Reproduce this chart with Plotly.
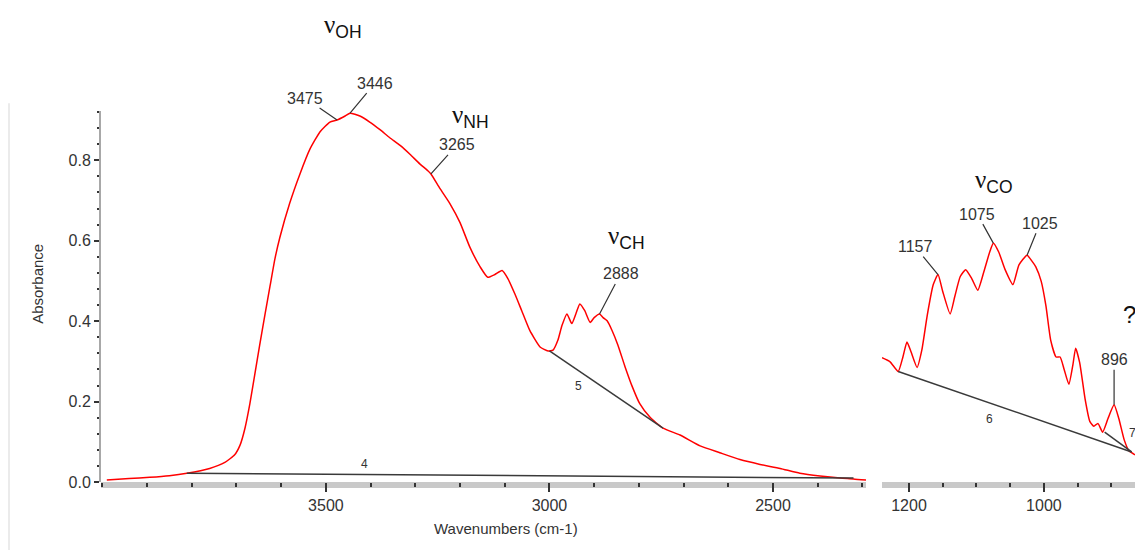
import numpy as np
import plotly.graph_objects as go

W, H = 1135, 559

# ---- spectrum data -------------------------------------------------------
# high-wavenumber region (cm-1) and absorbance
wn_main = [3990, 3940, 3894, 3850, 3811, 3760, 3726, 3704, 3692, 3681, 3670,
           3659, 3648, 3636, 3625, 3614, 3603, 3581, 3558, 3536, 3513, 3491,
           3475, 3457, 3446, 3424, 3402, 3379, 3357, 3334, 3312, 3290, 3272,
           3265, 3245, 3223, 3200, 3178, 3155, 3138, 3122, 3106, 3093, 3077,
           3062, 3044, 3021, 3003, 2992, 2981, 2972, 2961, 2950, 2941, 2932,
           2921, 2909, 2900, 2888, 2880, 2871, 2860, 2847, 2831, 2815, 2798,
           2775, 2746, 2708, 2663, 2619, 2574, 2529, 2484, 2440, 2395, 2350,
           2320, 2292]
abs_main = [0.005, 0.009, 0.012, 0.016, 0.022, 0.034, 0.049, 0.068, 0.092,
            0.134, 0.195, 0.268, 0.341, 0.418, 0.487, 0.555, 0.608, 0.693,
            0.766, 0.827, 0.871, 0.895, 0.900, 0.910, 0.917, 0.910, 0.895,
            0.876, 0.856, 0.837, 0.815, 0.791, 0.774, 0.766, 0.730, 0.693,
            0.645, 0.584, 0.535, 0.509, 0.516, 0.526, 0.506, 0.467, 0.426,
            0.377, 0.336, 0.326, 0.328, 0.353, 0.389, 0.418, 0.394, 0.418,
            0.443, 0.426, 0.397, 0.409, 0.418, 0.409, 0.401, 0.377, 0.341,
            0.287, 0.238, 0.195, 0.161, 0.134, 0.117, 0.090, 0.073, 0.056,
            0.044, 0.034, 0.022, 0.015, 0.010, 0.008, 0.005]

# fingerprint region (cm-1) and absorbance
wn_fp = [1240, 1228, 1216, 1209, 1203, 1197, 1188, 1181, 1173, 1164, 1157,
         1150, 1139, 1132, 1124, 1116, 1107, 1098, 1089, 1080, 1075, 1067,
         1058, 1046, 1037, 1025, 1018, 1012, 1004, 997, 990, 982, 976, 970,
         963, 957, 953, 947, 939, 932, 926, 920, 913, 905, 896, 889, 881,
         874, 865]
abs_fp = [0.309, 0.299, 0.275, 0.311, 0.348, 0.324, 0.285, 0.328, 0.414,
          0.491, 0.516, 0.474, 0.418, 0.462, 0.511, 0.528, 0.506, 0.477,
          0.523, 0.574, 0.594, 0.572, 0.530, 0.491, 0.540, 0.564, 0.550,
          0.535, 0.499, 0.438, 0.353, 0.311, 0.311, 0.280, 0.243, 0.292,
          0.333, 0.297, 0.207, 0.151, 0.139, 0.146, 0.124, 0.158, 0.192,
          0.158, 0.105, 0.078, 0.068]

# labelled band positions (cm-1)
peaks_main = [3475, 3446, 3265, 2888]
peaks_fp = [1157, 1075, 1025, 896]

# integration baselines: numbered segments
bl4_wn, bl4_abs = [3811, 2320], [0.022, 0.010]
bl5_wn, bl5_abs = [3000, 2746], [0.326, 0.134]
bl6_wn, bl6_abs = [1216, 870], [0.275, 0.075]
bl7_wn, bl7_abs = [910, 870], [0.124, 0.075]

x_ticks_main = [3500, 3000, 2500]
x_ticks_fp = [1200, 1000]
y_ticks = [0.0, 0.2, 0.4, 0.6, 0.8]

# ---- styling --------------------------------------------------------------
RED = "#ff0000"
INK = "#333333"
NARROW = "Liberation Sans Narrow, Liberation Sans, Arial, sans-serif"
SANS = "Liberation Sans, Arial, sans-serif"


def px(x):
    return x / W


def py(y):
    return (H - y) / H


Y_DOMAIN = [py(490), py(113)]
Y_RANGE = [0, 0.922]

fig = go.Figure()

line_style = dict(color=RED, width=1.5, shape="spline", smoothing=0.5)
base_style = dict(color="#3a3a3a", width=1.5)

fig.add_trace(go.Scatter(x=wn_main, y=abs_main, mode="lines", line=line_style,
                         xaxis="x", yaxis="y", hoverinfo="skip"))
fig.add_trace(go.Scatter(x=wn_fp, y=abs_fp, mode="lines", line=line_style,
                         xaxis="x2", yaxis="y2", hoverinfo="skip"))
for bx, by, xa, ya in [(bl4_wn, bl4_abs, "x", "y"), (bl5_wn, bl5_abs, "x", "y"),
                       (bl6_wn, bl6_abs, "x2", "y2"), (bl7_wn, bl7_abs, "x2", "y2")]:
    fig.add_trace(go.Scatter(x=bx, y=by, mode="lines", line=base_style,
                             xaxis=xa, yaxis=ya, hoverinfo="skip"))

tick_font = dict(family=NARROW, size=16, color=INK)
xaxis_common = dict(
    showline=False, showgrid=False, zeroline=False,
    ticks="outside", ticklen=9, tickwidth=2, tickcolor=INK,
    tickfont=tick_font, fixedrange=True,
    minor=dict(ticks="outside", ticklen=4, tickwidth=2, tickcolor=INK,
               dtick=100, showgrid=False),
)

fig.update_layout(
    width=W, height=H,
    margin=dict(l=0, r=0, t=0, b=0),
    paper_bgcolor="white", plot_bgcolor="white",
    showlegend=False,
    xaxis=dict(domain=[px(101), px(866)], range=[4003, 2292], anchor="y",
               tickvals=x_ticks_main, ticktext=[str(v) for v in x_ticks_main],
               **xaxis_common),
    xaxis2=dict(domain=[px(882), 1.0], range=[1240, 865], anchor="y2",
                tickvals=x_ticks_fp, ticktext=[str(v) for v in x_ticks_fp],
                **{**xaxis_common,
                   "minor": dict(ticks="outside", ticklen=4, tickwidth=2,
                                 tickcolor=INK, dtick=50, showgrid=False)}),
    yaxis=dict(domain=Y_DOMAIN, range=Y_RANGE, anchor="x",
               showline=True, linecolor="#a8a8a8", linewidth=2,
               showgrid=False, zeroline=False,
               ticks="outside", ticklen=5, tickwidth=1.5, tickcolor=INK,
               tickvals=y_ticks, ticktext=[f"{v:.1f}" for v in y_ticks],
               tickfont=tick_font, fixedrange=True,
               minor=dict(ticks="outside", ticklen=2, tickwidth=2,
                          tickcolor=INK, dtick=0.04, showgrid=False)),
    yaxis2=dict(domain=Y_DOMAIN, range=Y_RANGE, anchor="x2", visible=False,
                fixedrange=True),
)

# grey axis bars under the x ticks
for xref in ["x domain", "x2 domain"]:
    fig.add_shape(type="rect", xref=xref, yref="paper", x0=0, x1=1,
                  y0=py(496), y1=py(490), fillcolor="#c9c9c9",
                  line=dict(width=0), layer="below")

# faint frame edge on the far left
fig.add_shape(type="line", xref="paper", yref="paper", x0=px(9), x1=px(9),
              y0=0, y1=py(105), line=dict(color="#e4e4e4", width=1.5))

annotations = []

# axis titles
annotations.append(dict(text="Wavenumbers (cm-1)", xref="paper", yref="paper",
                        x=px(506), y=py(548), showarrow=False,
                        font=dict(family=SANS, size=15, color=INK)))
annotations.append(dict(text="Absorbance", xref="paper", yref="paper",
                        x=px(27), y=py(289), showarrow=False, textangle=-90,
                        font=dict(family=SANS, size=15, color=INK)))

# band labels with leader lines
label_font = dict(family=NARROW, size=16, color=INK)
offsets_main = {3475: (-32, -22), 3446: (25, -30), 3265: (26, -29), 2888: (21, -40)}
offsets_fp = {1157: (-23, -28), 1075: (-16, -29), 1025: (13, -32), 896: (0, -45)}


def curve_value(wn, xs, ys):
    return float(np.interp(wn, xs[::-1], ys[::-1]))


for p in peaks_main:
    ax, ay = offsets_main[p]
    annotations.append(dict(x=p, y=curve_value(p, wn_main, abs_main),
                            xref="x", yref="y", text=str(p), showarrow=True,
                            arrowhead=0, arrowwidth=1.2, arrowcolor=INK,
                            ax=ax, ay=ay, font=label_font))
for p in peaks_fp:
    ax, ay = offsets_fp[p]
    annotations.append(dict(x=p, y=curve_value(p, wn_fp, abs_fp),
                            xref="x2", yref="y2", text=str(p), showarrow=True,
                            arrowhead=0, arrowwidth=1.2, arrowcolor=INK,
                            ax=ax, ay=ay, font=label_font))

# stretching-mode labels
greek = "<span style='font-family:Liberation Serif, Times New Roman, serif'>ν</span>"
for sub, xl, yc in [("OH", 322, 27), ("NH", 450, 118), ("CH", 606, 241), ("CO", 973, 184)]:
    annotations.append(dict(text=f"{greek}<sub>{sub}</sub>", xref="paper",
                            yref="paper", x=px(xl), y=py(yc), xanchor="left",
                            yanchor="middle", showarrow=False,
                            font=dict(family=SANS, size=25, color="#111111")))
annotations.append(dict(text="?", xref="paper", yref="paper", x=px(1121),
                        y=py(320), xanchor="left", yanchor="middle",
                        showarrow=False,
                        font=dict(family=SANS, size=24, color="#111111")))

# baseline numbers
num_font = dict(family=SANS, size=12, color=INK)
for t, x, y, xr, yr in [("4", 3413, 0.044, "x", "y"), ("5", 2935, 0.238, "x", "y"),
                        ("6", 1080, 0.158, "x2", "y2"), ("7", 869, 0.122, "x2", "y2")]:
    annotations.append(dict(text=t, x=x, y=y, xref=xr, yref=yr,
                            showarrow=False, font=num_font))

fig.update_layout(annotations=annotations)

fig.write_html("out.html")
